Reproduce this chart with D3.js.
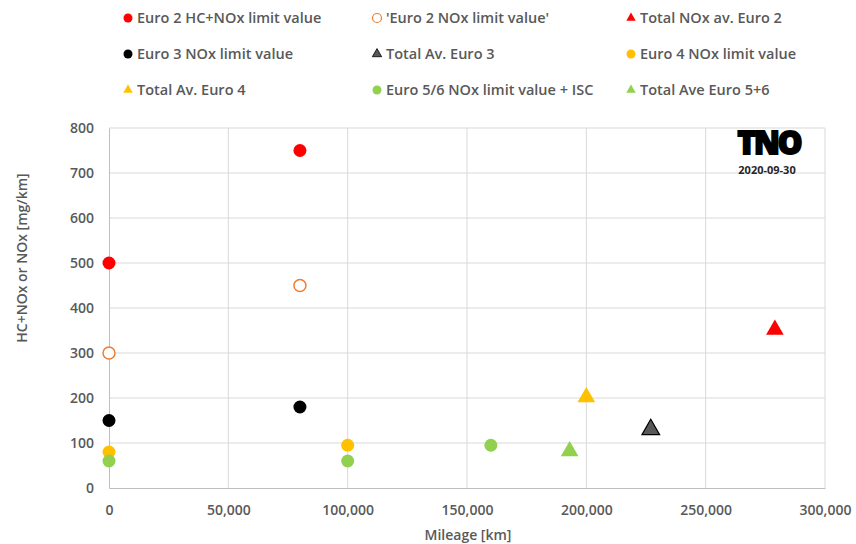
<!DOCTYPE html>
<html><head><meta charset="utf-8">
<script src="https://cdn.jsdelivr.net/npm/d3@7"></script>
<style>body{margin:0;background:#fff;} text{font-family:"Open Sans",sans-serif;}</style>
</head><body>
<svg id="c" width="856" height="544"></svg>
<script>
const xTicks = [0, 50000, 100000, 150000, 200000, 250000, 300000];
const yTicks = [0, 100, 200, 300, 400, 500, 600, 700, 800];

const euro2HC = [[0, 500], [80000, 750]];
const euro2NOx = [[0, 300], [80000, 450]];
const totalEuro2 = [[279000, 352]];
const euro3NOx = [[0, 150], [80000, 180]];
const totalEuro3 = [[227000, 130]];
const euro4NOx = [[0, 80], [100000, 95]];
const totalEuro4 = [[200000, 202]];
const euro56NOx = [[0, 60], [100000, 60], [160000, 95]];
const totalEuro56 = [[193000, 82]];

const seriesNames = ["Euro 2 HC+NOx limit value", "'Euro 2 NOx limit value'", "Total NOx av. Euro 2",
  "Euro 3 NOx limit value", "Total Av. Euro 3", "Euro 4 NOx limit value",
  "Total Av. Euro 4", "Euro 5/6 NOx limit value + ISC", "Total Ave Euro 5+6"];

const series = [
  {data: euro2HC, shape: "circle", fill: "#FF0000", stroke: "none"},
  {data: euro2NOx, shape: "circle", fill: "none", stroke: "#ED7D31"},
  {data: totalEuro2, shape: "triangle", fill: "#FF0000", stroke: "none"},
  {data: euro3NOx, shape: "circle", fill: "#000000", stroke: "none"},
  {data: totalEuro3, shape: "triangle", fill: "#595959", stroke: "#000000"},
  {data: euro4NOx, shape: "circle", fill: "#FFC000", stroke: "none"},
  {data: totalEuro4, shape: "triangle", fill: "#FFC000", stroke: "none"},
  {data: euro56NOx, shape: "circle", fill: "#92D050", stroke: "none"},
  {data: totalEuro56, shape: "triangle", fill: "#92D050", stroke: "none"}
];

const svg = d3.select("#c");
const L = 109, R = 825, T = 128, B = 488;
const x = d3.scaleLinear().domain([0, 300000]).range([L, R]);
const y = d3.scaleLinear().domain([0, 800]).range([B, T]);
const txt = "#595959";

// gridlines
svg.append("g").selectAll("line").data(yTicks.slice(1)).join("line")
  .attr("x1", L).attr("x2", R).attr("y1", d => y(d)).attr("y2", d => y(d))
  .attr("stroke", "#D9D9D9").attr("stroke-width", 1);
svg.append("g").selectAll("line").data(xTicks.slice(1)).join("line")
  .attr("x1", d => x(d)).attr("x2", d => x(d)).attr("y1", T).attr("y2", B)
  .attr("stroke", "#D9D9D9").attr("stroke-width", 1);

// axes
const xAxis = svg.append("g").attr("transform", `translate(0,${B})`)
  .call(d3.axisBottom(x).tickValues(xTicks).tickFormat(d3.format(",")).tickSize(0).tickPadding(17));
const yAxis = svg.append("g").attr("transform", `translate(${L},0)`)
  .call(d3.axisLeft(y).tickValues(yTicks).tickSize(0).tickPadding(15));
[xAxis, yAxis].forEach(a => {
  a.select(".domain").attr("stroke", "#BFBFBF");
  a.selectAll("text").attr("fill", txt).attr("font-size", 14).attr("font-weight", 600)
    .attr("font-family", "'Open Sans',sans-serif");
});

svg.append("text").attr("x", 468).attr("y", 540).attr("text-anchor", "middle")
  .attr("fill", txt).attr("font-size", 14).attr("font-weight", 600).text("Mileage [km]");
svg.append("text").attr("transform", `translate(27,258) rotate(-90)`).attr("text-anchor", "middle")
  .attr("fill", txt).attr("font-size", 14).attr("font-weight", 600).text("HC+NOx or NOx [mg/km]");

// markers
const tri = d3.symbol().type(d3.symbolTriangle).size(135);
series.forEach(s => {
  const g = svg.append("g");
  if (s.shape === "circle") {
    g.selectAll("circle").data(s.data).join("circle")
      .attr("cx", d => x(d[0])).attr("cy", d => y(d[1])).attr("r", s.fill === "none" ? 6 : 6.5)
      .attr("fill", s.fill === "none" ? "#fff" : s.fill)
      .attr("stroke", s.stroke).attr("stroke-width", 1.5);
  } else {
    g.selectAll("path").data(s.data).join("path")
      .attr("d", tri).attr("transform", d => `translate(${x(d[0])},${y(d[1])})`)
      .attr("fill", s.fill).attr("stroke", s.stroke).attr("stroke-width", 1.2);
  }
});

// legend
const colX = [128, 377, 631], rowY = [18, 54, 90];
const smallTri = d3.symbol().type(d3.symbolTriangle).size(38);
series.forEach((s, i) => {
  const cx = colX[i % 3], cy = rowY[Math.floor(i / 3)];
  if (s.shape === "circle") {
    svg.append("circle").attr("cx", cx).attr("cy", cy).attr("r", 4.5)
      .attr("fill", s.fill === "none" ? "#fff" : s.fill).attr("stroke", s.stroke).attr("stroke-width", 1.2);
  } else {
    svg.append("path").attr("d", smallTri).attr("transform", `translate(${cx},${cy})`)
      .attr("fill", s.fill).attr("stroke", s.stroke).attr("stroke-width", 0.8);
  }
  svg.append("text").attr("x", cx + 9).attr("y", cy + 5).attr("fill", txt)
    .attr("font-size", 14.5).attr("font-weight", 600).text(seriesNames[i]);
});

// TNO logo
svg.append("text").attr("x", 769).attr("y", 154).attr("text-anchor", "middle")
  .attr("font-family", "'DejaVu Sans',sans-serif").attr("font-weight", 900).attr("font-size", 31)
  .attr("fill", "#000").attr("stroke", "#000").attr("stroke-width", 1.8).attr("letter-spacing", -2).text("TNO");
svg.append("text").attr("x", 767).attr("y", 174).attr("text-anchor", "middle")
  .attr("font-weight", 700).attr("font-size", 11).attr("fill", "#262626").text("2020-09-30");
</script>
</body></html>
